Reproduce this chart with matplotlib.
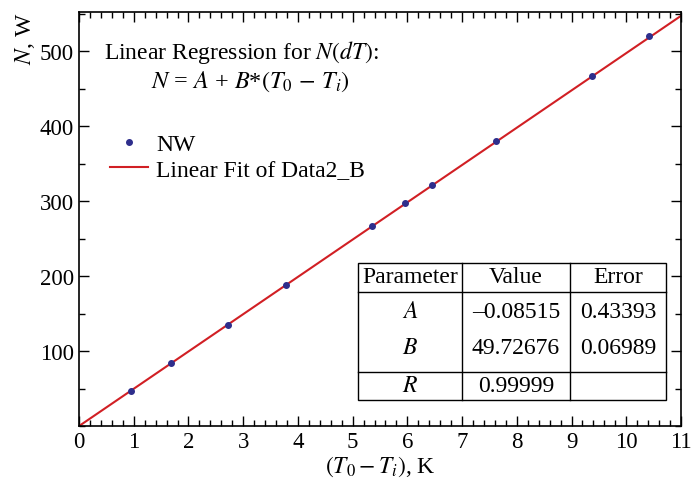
import matplotlib.pyplot as plt
import numpy as np
from matplotlib.ticker import MultipleLocator

plt.rcParams['font.family'] = ['Liberation Serif', 'DejaVu Serif']
plt.rcParams['mathtext.fontset'] = 'stix'

# data
dT = [0.95, 1.68, 2.72, 3.78, 5.35, 5.95, 6.45, 7.62, 9.38, 10.42]
N = [47, 84, 135, 188, 267, 297, 321, 380, 467, 520]

# fit parameters from the table
A, A_err = -0.08515, 0.43393
B, B_err = 49.72676, 0.06989
R = 0.99999

FS = 17

fig = plt.figure(figsize=(6.93, 4.85), dpi=100)
ax = fig.add_axes([79 / 693, 1 - 427 / 485, (681 - 79) / 693, (427 - 13) / 485])

ax.plot(dT, N, 'o', color='#2e2e8c', ms=4, label='NW', zorder=3)
x_fit = np.array([0, 11])
ax.plot(x_fit, A + B * x_fit, '-', color='#d11f24', lw=1.5, label='Linear Fit of Data2_B', zorder=2)

ax.set_xlim(0, 11)
ax.set_ylim(0, 552)
ax.xaxis.set_major_locator(MultipleLocator(1))
ax.xaxis.set_minor_locator(MultipleLocator(0.2))
ax.yaxis.set_minor_locator(MultipleLocator(50))
ax.set_yticks([100, 200, 300, 400, 500])
ax.tick_params(which='both', direction='in', top=True, right=True, labelsize=16.5)
ax.tick_params(which='major', length=7, width=1)
ax.tick_params(which='minor', length=4, width=1)
for s in ax.spines.values():
    s.set_linewidth(1.2)

ax.set_xlabel(r'$(T_0 - T_i)$, K', fontsize=FS, labelpad=1)
ax.set_ylabel(r'$N$, W', fontsize=FS, loc='top', labelpad=2)

leg = ax.legend(loc='upper left', bbox_to_anchor=(0.052, 0.707), frameon=False, fontsize=FS,
                handlelength=1.6, handletextpad=0.35, labelspacing=0.18, borderpad=0,
                borderaxespad=0)

ax.text(0.042, 0.905, r'Linear Regression for $N(dT)$:', transform=ax.transAxes,
        fontsize=FS, ha='left', va='center')
ax.text(0.285, 0.835, r'$N$ = $A$ + $B$*$(T_0\,-\,T_i)$', transform=ax.transAxes,
        fontsize=FS + 0.5, ha='center', va='center')

# parameter table drawn in figure pixels
W, H = 693, 485
def fx(px):
    return px / W
def fy(py):
    return 1 - py / H

cols = [358, 462, 570, 666]
rows = [264, 293, 373, 401]
lw = 1.0
fig.add_artist(plt.Rectangle((fx(cols[0]), fy(rows[-1])), fx(cols[-1]) - fx(cols[0]),
                             fy(rows[0]) - fy(rows[-1]), fill=True, facecolor='white',
                             edgecolor='black', lw=lw, transform=fig.transFigure, zorder=4))
for c in cols[1:-1]:
    fig.add_artist(plt.Line2D([fx(c), fx(c)], [fy(rows[0]), fy(rows[-1])], color='black', lw=lw, zorder=5))
for r in rows[1:-1]:
    fig.add_artist(plt.Line2D([fx(cols[0]), fx(cols[-1])], [fy(r), fy(r)], color='black', lw=lw, zorder=5))

cx = [(cols[i] + cols[i + 1]) / 2 for i in range(3)]
table_rows = [
    (278, ['Parameter', 'Value', 'Error']),
    (312, [r'$A$', '\u20130.08515', f'{A_err:.5f}']),
    (349, [r'$B$', f'{B:.5f}', f'{B_err:.5f}']),
    (387, [r'$R$', f'{R:.5f}', '']),
]
for py, cells in table_rows:
    for x, t in zip(cx, cells):
        fig.text(fx(x), fy(py), t, fontsize=FS, ha='center', va='center', zorder=6)

fig.savefig('out.png', dpi=100)
